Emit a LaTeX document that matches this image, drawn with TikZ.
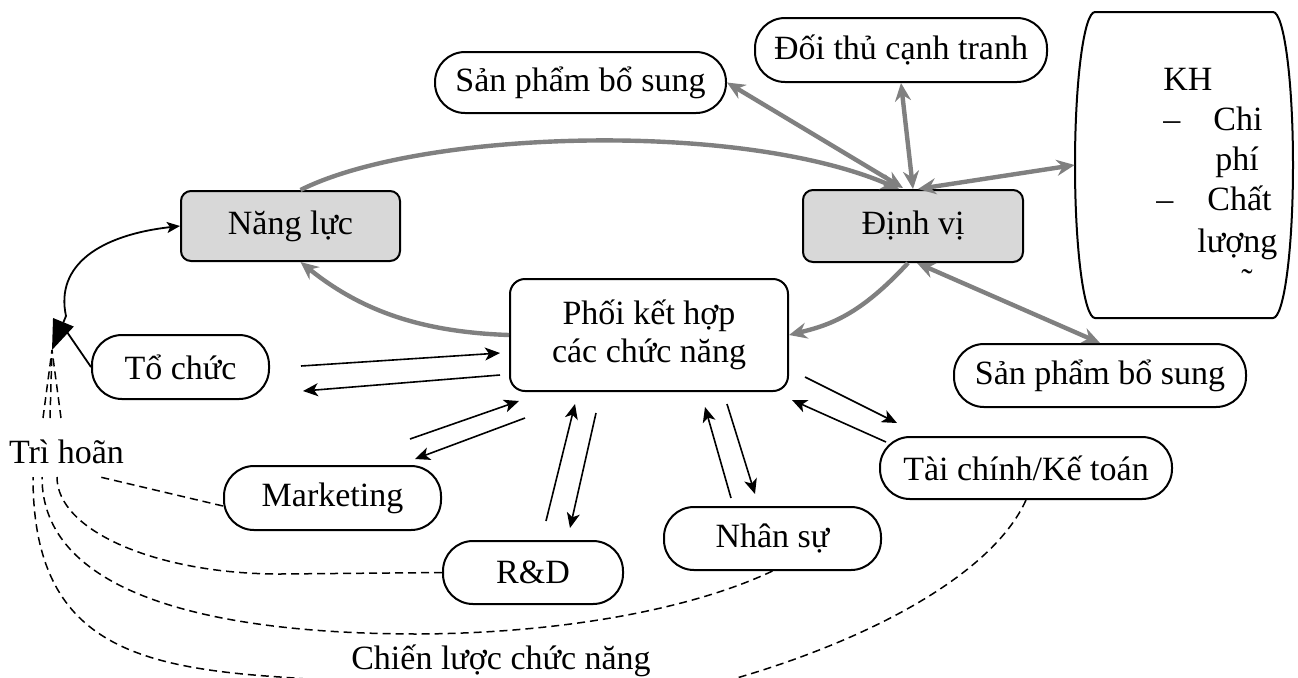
\documentclass[tikz,border=0pt]{standalone}
\usepackage{fontspec}
\setmainfont{Liberation Serif}
\usetikzlibrary{shapes.misc,arrows.meta,calc}

\definecolor{boxgray}{RGB}{216,216,216}
\definecolor{arrowgray}{RGB}{128,128,128}

\begin{document}
\begin{tikzpicture}[x=0.5pt,y=-0.5pt,
  every node/.style={font=\fontsize{17}{19}\selectfont},
  pill/.style={rectangle, draw, line width=1pt, rounded corners=15pt, inner sep=0pt, fill=white},
  graybox/.style={rectangle, draw, line width=1pt, rounded corners=5pt, fill=boxgray, inner sep=0pt},
  ktext/.style={inner sep=0pt, anchor=base west},
  gline/.style={draw=arrowgray, line width=2.2pt, -{Stealth[length=9pt,width=8pt,inset=3pt]}},
  gboth/.style={draw=arrowgray, line width=2.2pt, {Stealth[length=9pt,width=8pt,inset=3pt]}-{Stealth[length=9pt,width=8pt,inset=3pt]}},
  bline/.style={line width=0.8pt, -{Stealth[length=7.5pt,width=6.5pt,inset=2pt]}},
  dashlink/.style={line width=0.75pt, dash pattern=on 4pt off 2.5pt}
]
\useasboundingbox (0,0) rectangle (1298,677);
\fill[white] (0,0) rectangle (1298,677);
\clip (0,0) rectangle (1298,677);

% ---------- main boxes ----------
\node[graybox, minimum width=109.5pt, minimum height=35pt] (nl) at (290.5,226) {Năng lực};
\node[graybox, minimum width=110pt, minimum height=36pt] (dv) at (913,226) {Định vị};
\node[draw, line width=1pt, rounded corners=7.5pt, minimum width=139pt, minimum height=56pt,
      inner sep=0pt, align=center] (ph) at (649,335) {Phối kết hợp\\các chức năng};

% ---------- rounded (terminator) boxes ----------
\node[pill, minimum width=145.5pt, minimum height=30.5pt] (sp1) at (580.5,82.5) {Sản phẩm bổ sung};
\node[pill, minimum width=146pt, minimum height=32pt] (dt) at (901,50) {Đối thủ cạnh tranh};
\node[pill, minimum width=146pt, minimum height=31.5pt] (sp2) at (1100,375.5) {Sản phẩm bổ sung};
\node[pill, minimum width=88.5pt, minimum height=32pt] (toc) at (180.5,367) {Tổ chức};
\node[pill, minimum width=108.5pt, minimum height=32pt] (mk) at (332.5,498) {Marketing};
\node[pill, minimum width=90pt, minimum height=31.5pt] (rd) at (533,572.5) {R\&D};
\node[pill, minimum width=108.5pt, minimum height=31.5pt] (ns) at (772.5,538.5) {Nhân sự};
\node[pill, minimum width=146pt, minimum height=31pt] (tc) at (1026,468) {Tài chính/Kế toán};

% ---------- customer box with bowed sides ----------
\node[inner sep=0pt, minimum width=109pt, minimum height=153pt] (kh) at (1184,165) {};
\draw[line width=1pt] (1095,12) -- (1273,12)
  .. controls (1284,12) and (1293,80.5) .. (1293,165)
  .. controls (1293,249.5) and (1284,318) .. (1273,318) -- (1095,318)
  .. controls (1084,318) and (1075,249.5) .. (1075,165)
  .. controls (1075,80.5) and (1084,12) .. (1095,12) -- cycle;
\node[ktext] (khA) at (1163,90) {KH};
\node[ktext] (khB) at (1163,130) {–};
\node[ktext] (khC) at (1213,130) {Chi};
\node[ktext] (khD) at (1215,170) {phí};
\node[ktext] (khE) at (1156,210) {–};
\node[ktext] (khF) at (1207,210) {Chất};
\node[ktext] (khG) at (1197,252) {lượng};
\node[inner sep=0pt, anchor=base] (khH) at (1247,292) {˜};

% ---------- free labels ----------
\node[inner sep=0pt, anchor=base] (tri) at (66.5,463) {Trì hoãn};
\node[inner sep=0pt, anchor=base] (cl) at (501,669) {Chiến lược chức năng};

% ---------- points around the delay label ----------
\coordinate (trA) at (33,477);
\coordinate (trB) at (42,477);
\coordinate (trC) at (57,477);
\coordinate (trM) at (100,477);
\coordinate (upA) at (43,418);
\coordinate (upB) at (50,418);
\coordinate (upC) at (61,418);
\coordinate (tip) at (52,350);
\coordinate (jn) at (67,332);

% ---------- dashed feedback links ----------
\draw[dashlink] ($(mk.west)+(0,8)$) -- (trM);
\draw[dashlink] (rd.west) -- (280,574) .. controls (157,574) and (57,531) .. (trC)
  (upC) -- (tip);
\draw[dashlink] (ns.south) .. controls (690,610) and (560,633) .. (420,634)
  .. controls (200,634) and (42,590) .. (trB)
  (upB) -- (tip);
\draw[dashlink] (tc.south) .. controls (990,580) and (850,650) .. (700,688)
  .. controls (560,715) and (400,685) .. (280,677)
  .. controls (130,667) and (33,640) .. (trA)
  (upA) -- (tip);

% ---------- black link to capabilities ----------
\draw[line width=0.9pt] (toc.west) -- (jn);
\draw[line width=0.9pt, {Triangle[length=15pt,width=11pt]}-{Stealth[length=6.5pt,width=5.5pt,inset=1.5pt]}]
  (tip) -- (66,316) .. controls (55,265) and (100,235) .. (nl.west);

% ---------- gray links ----------
\draw[gline] ($(nl.north)+(10,0)$) .. controls (420,130) and (740,120) .. ($(dv.north)+(-14,0)$);
\draw[gboth] (sp1.east) -- ($(dv.north)+(-10,-1)$);
\draw[gboth] (dt.south) -- (dv.north);
\draw[gboth] (kh.west) -- ($(dv.north)+(5,0)$);
\draw[gboth] ($(dv.south)+(4,0)$) -- (sp2.north);
\draw[gline] ($(dv.south)+(-5,0)$) .. controls (860,315) and (830,325) .. (ph.east);
\draw[gline] (ph.west) .. controls (420,332) and (360,310) .. ($(nl.south)+(10,0)$);

% ---------- black exchange arrows ----------
\draw[bline] ($(toc.east)+(31,-1)$) -- ($(ph.west)+(-9,18)$);
\draw[bline] ($(ph.west)+(-9,40)$) -- ($(toc.east)+(33,24)$);
\draw[bline] ($(mk.north)+(77.5,-26)$) -- ($(ph.south west)+(10,9)$);
\draw[bline] ($(ph.south west)+(16,26)$) -- ($(mk.north)+(82.5,-6)$);
\draw[bline] ($(rd.north)+(13,-19)$) -- ($(ph.south)+(-74,12)$);
\draw[bline] ($(ph.south)+(-53,21)$) -- ($(rd.north)+(37,-12)$);
\draw[bline] ($(ns.north)+(-41.5,-8)$) -- ($(ph.south)+(56,15)$);
\draw[bline] ($(ph.south)+(78,12)$) -- ($(ns.north)+(-17.5,-12)$);
\draw[bline] ($(ph.east)+(16,42)$) -- ($(tc.north)+(-129,-13)$);
\draw[bline] ($(tc.north)+(-140,6)$) -- ($(ph.east)+(3,65)$);
\end{tikzpicture}
\end{document}
